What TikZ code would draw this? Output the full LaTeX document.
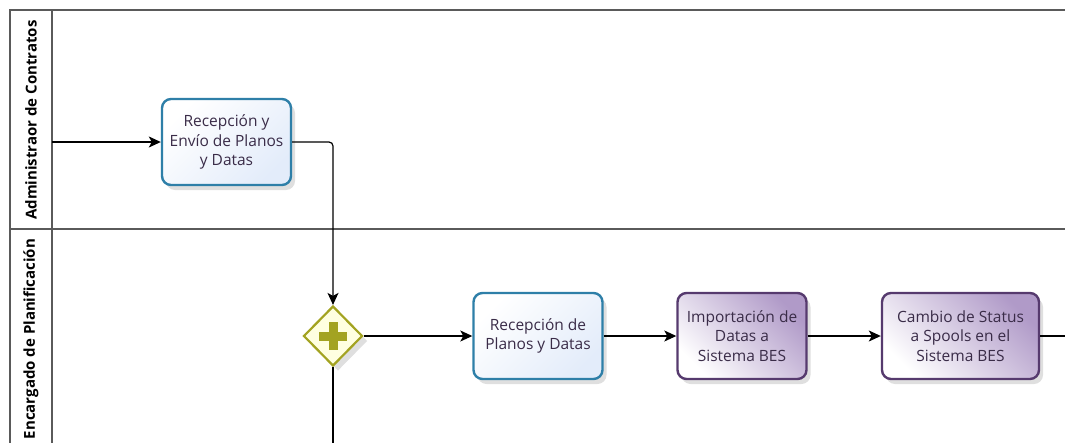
\documentclass[tikz,border=0pt]{standalone}
\usepackage{fontspec}
\setmainfont{Open Sans}
\usetikzlibrary{arrows.meta,shapes.geometric,shadows,calc}
\definecolor{taskblue}{HTML}{2E7FA8}
\definecolor{taskbluefill}{HTML}{E3ECFA}
\definecolor{taskpurple}{HTML}{563A6E}
\definecolor{taskpurplefill}{HTML}{B09AC8}
\definecolor{tasktext}{HTML}{3A2C48}
\definecolor{gateline}{HTML}{A3A321}
\definecolor{gatefill}{HTML}{FFFFE0}
\definecolor{poolline}{HTML}{5A5A5A}
\tikzset{
  pool/.style={draw=poolline,line width=1.2pt},
  lanelabel/.style={rotate=90,font=\bfseries\fontsize{15}{17}\selectfont,text=black},
  task/.style={rounded corners=9pt,minimum width=129pt,minimum height=86pt,
    align=center,font=\fontsize{15.5}{19.5}\selectfont,text=tasktext,
    line width=2.4pt,drop shadow={opacity=0.25,shadow xshift=4pt,shadow yshift=-5pt}},
  bluetask/.style={task,draw=taskblue,top color=white,bottom color=taskbluefill,
    shading angle=45},
  purpletask/.style={task,draw=taskpurple,left color=white,right color=taskpurplefill,
    shading angle=135},
  gate/.style={diamond,minimum width=59pt,minimum height=60pt,inner sep=0pt,
    draw=gateline,fill=gatefill,line width=2.2pt,
    drop shadow={opacity=0.25,shadow xshift=5pt,shadow yshift=-5pt}},
  flow/.style={line width=1.2pt,-{Stealth[length=12pt,width=11pt,inset=3pt]}},
  plainflow/.style={line width=1.2pt}
}
\begin{document}
\begin{tikzpicture}[x=1pt,y=-1pt]
\useasboundingbox (0,0) rectangle (1065,442);
% pool frame and lanes
\draw[pool] (1066,10) -- (10,10) -- (10,443);
\draw[pool] (52,10) -- (52,443);
\draw[pool] (10,229) -- (1066,229);
\node[lanelabel] (lane1) at (31,120) {Administraor de Contratos};
\node[lanelabel] (lane2) at (31,339) {Encargado de Planificación};
\coordinate (start) at (52,142);
\coordinate (exit) at (1066,336);
\coordinate (down) at (333,443);
% tasks
\node[bluetask] (t1) at (226.5,142) {Recepción y\\Envío de Planos\\y Datas};
\node[gate] (g) at (333,336) {};
\fill[gateline] ($(g.center)+(-14,-4.5)$) rectangle ($(g.center)+(14,4.5)$);
\fill[gateline] ($(g.center)+(-4.5,-14)$) rectangle ($(g.center)+(4.5,14)$);
\node[bluetask] (t2) at (538,336) {Recepción de\\Planos y Datas};
\node[purpletask] (t3) at (742,336) {Importación de\\Datas a\\Sistema BES};
\node[purpletask,minimum width=157pt] (t4) at (960.5,336) {Cambio de Status\\a Spools en el\\Sistema BES};
% sequence flows
\draw[flow] (start) -- (t1.west);
\draw[flow,rounded corners=4pt] (t1.east) -| (g.north);
\draw[plainflow] (g.south) -- (down);
\draw[flow] (g.east) -- (t2.west);
\draw[flow] (t2.east) -- (t3.west);
\draw[flow] (t3.east) -- (t4.west);
\draw[plainflow] (t4.east) -- (exit);
\end{tikzpicture}
\end{document}
